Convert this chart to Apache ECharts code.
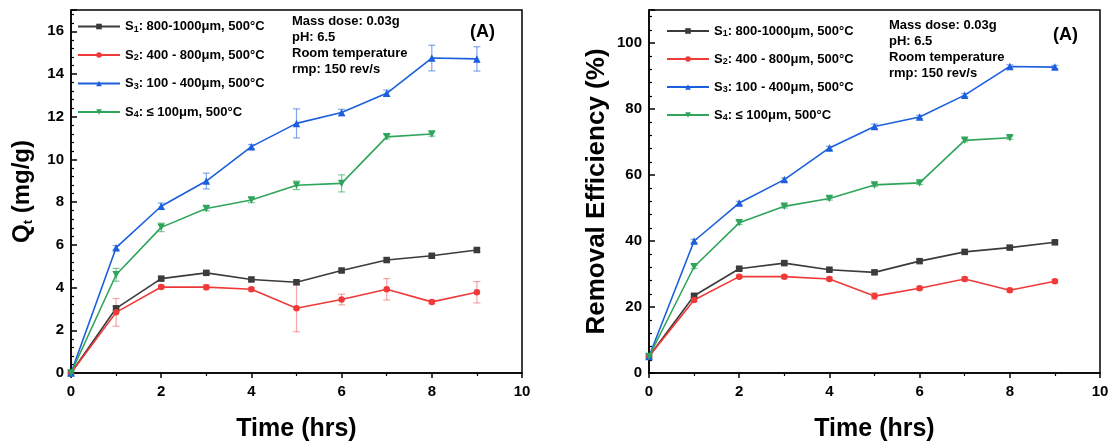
<!DOCTYPE html>
<html><head><meta charset="utf-8">
<script src="https://cdn.jsdelivr.net/npm/echarts@6/dist/echarts.min.js"></script>
<style>html,body{margin:0;padding:0;background:#fff}#c{width:1109px;height:442px}</style>
</head><body><div id="c"></div>
<script>
// ---- data ----
const time = [0, 1, 2, 3, 4, 5, 6, 7, 8, 9];
const seriesNames = ['S1: 800-1000μm, 500°C', 'S2: 400 - 800μm, 500°C', 'S3: 100 - 400μm, 500°C', 'S4: ≤ 100μm, 500°C'];

// Qt (mg/g)
const qtS1 = [0, 3.03, 4.42, 4.69, 4.38, 4.25, 4.80, 5.29, 5.49, 5.76];
const qtS2 = [0, 2.84, 4.03, 4.02, 3.92, 3.03, 3.44, 3.92, 3.33, 3.78];
const qtS3 = [0, 5.87, 7.81, 8.99, 10.60, 11.69, 12.20, 13.10, 14.75, 14.71];
const qtS4 = [0, 4.60, 6.82, 7.70, 8.10, 8.79, 8.88, 11.06, 11.19];
const qtErrS1 = [0, 0.08, 0.08, 0.08, 0.08, 0.08, 0.08, 0.08, 0.08, 0.08];
const qtErrS2 = [0, 0.65, 0.08, 0.12, 0.08, 1.10, 0.25, 0.50, 0.08, 0.50];
const qtErrS3 = [0, 0.10, 0.15, 0.37, 0.10, 0.68, 0.15, 0.15, 0.60, 0.57];
const qtErrS4 = [0, 0.30, 0.20, 0.10, 0.12, 0.20, 0.40, 0.10, 0.10];

// Removal efficiency (%)
const reS1 = [5, 23.4, 31.6, 33.3, 31.3, 30.5, 33.9, 36.7, 38.0, 39.6];
const reS2 = [5, 22.1, 29.2, 29.2, 28.5, 23.3, 25.7, 28.5, 25.1, 27.8];
const reS3 = [5, 40.0, 51.5, 58.6, 68.2, 74.7, 77.6, 84.2, 92.9, 92.7];
const reS4 = [5, 32.2, 45.5, 50.5, 52.9, 57.0, 57.6, 70.5, 71.3];
const reErrS1 = [0, 0.5, 0.5, 0.5, 0.5, 0.5, 0.5, 0.5, 0.5, 0.5];
const reErrS2 = [0, 0.5, 0.5, 0.5, 0.5, 1.0, 0.5, 0.6, 0.5, 0.5];
const reErrS3 = [0, 0.5, 0.5, 0.5, 0.5, 0.7, 0.5, 0.5, 0.5, 0.5];
const reErrS4 = [0, 0.5, 0.5, 0.5, 0.5, 0.5, 0.5, 0.5, 0.5];

// ---- styling ----
const colors = ['#3b3b3b', '#f03a3a', '#1b5fdc', '#2ea55a'];
const errColors = ['rgba(59,59,59,0.55)', 'rgba(240,58,58,0.45)', 'rgba(27,95,220,0.55)', 'rgba(46,165,90,0.6)'];
const symbols = ['rect', 'circle', 'triangle', 'path://M0,0L10,0L5,9Z'];
const symSizes = [6.5, 6.5, 7.5, 7.5];
const FONT = 'Arial, "Liberation Sans", sans-serif';

const panels = [
  { vals: [qtS1, qtS2, qtS3, qtS4], errs: [qtErrS1, qtErrS2, qtErrS3, qtErrS4] },
  { vals: [reS1, reS2, reS3, reS4], errs: [reErrS1, reErrS2, reErrS3, reErrS4] }
];

function errRender(color) {
  return function (params, api) {
    const x = api.value(0), y = api.value(1), e = api.value(2);
    if (!e) return null;
    const t = api.coord([x, y + e]), b = api.coord([x, y - e]);
    const w = 3.5;
    const st = { stroke: color, lineWidth: 1.2 };
    return { type: 'group', children: [
      { type: 'line', shape: { x1: t[0], y1: t[1], x2: b[0], y2: b[1] }, style: st },
      { type: 'line', shape: { x1: t[0] - w, y1: t[1], x2: t[0] + w, y2: t[1] }, style: st },
      { type: 'line', shape: { x1: b[0] - w, y1: b[1], x2: b[0] + w, y2: b[1] }, style: st }
    ]};
  };
}

const series = [];
panels.forEach((p, pi) => {
  p.vals.forEach((vals, i) => {
    series.push({
      type: 'custom', xAxisIndex: pi, yAxisIndex: pi, z: 2, silent: true,
      renderItem: errRender(errColors[i]),
      data: vals.map((v, k) => [time[k], v, p.errs[i][k]])
    });
  });
  p.vals.forEach((vals, i) => {
    series.push({
      type: 'line', name: seriesNames[i], xAxisIndex: pi, yAxisIndex: pi, z: 3,
      data: vals.map((v, k) => [time[k], v]),
      symbol: symbols[i], symbolSize: symSizes[i], showAllSymbol: true,
      lineStyle: { color: colors[i], width: 1.6 },
      itemStyle: { color: colors[i] },
      animation: false
    });
  });
});

const legendRich = {
  n: { fontFamily: FONT, fontWeight: 'bold', fontSize: 13, color: '#000' },
  s: { fontFamily: FONT, fontWeight: 'bold', fontSize: 9, color: '#000', verticalAlign: 'bottom', padding: [6, 0, 0, 0] }
};
function legendFmt(name) {
  return '{n|S}{s|' + name[1] + '}{n|' + name.slice(2) + '}';
}
function mkLegend(left, top, gap) {
  return {
    orient: 'vertical', left: left, top: top, itemGap: gap, itemWidth: 42, itemHeight: 7,
    data: seriesNames, formatter: legendFmt, selectedMode: false,
    textStyle: { rich: legendRich, fontFamily: FONT, fontWeight: 'bold', fontSize: 13 }
  };
}

function xAx(gi) {
  return {
    type: 'value', gridIndex: gi, min: 0, max: 10, interval: 2,
    name: 'Time (hrs)', nameLocation: 'middle', nameGap: 44,
    nameTextStyle: { fontFamily: FONT, fontWeight: 'bold', fontSize: 25, color: '#000' },
    axisLine: { show: true, onZero: false, lineStyle: { color: '#000', width: 1.5 } },
    axisTick: { show: true, inside: false, length: 5, lineStyle: { color: '#000', width: 1.5 } },
    minorTick: { show: true, splitNumber: 2, length: 3, lineStyle: { color: '#000', width: 1.2 } },
    splitLine: { show: false }, minorSplitLine: { show: false },
    axisLabel: { fontFamily: FONT, fontWeight: 'bold', fontSize: 15, color: '#000', margin: 11 }
  };
}
function yAx(gi, max, interval, nameText, nameRich, gap, nameSize) {
  return {
    type: 'value', gridIndex: gi, min: 0, max: max, interval: interval,
    name: nameText, nameLocation: 'middle', nameGap: gap,
    nameTextStyle: { fontFamily: FONT, fontWeight: 'bold', fontSize: nameSize, color: '#000', rich: nameRich },
    axisLine: { show: true, onZero: false, lineStyle: { color: '#000', width: 1.5 } },
    axisTick: { show: true, inside: true, length: 6, lineStyle: { color: '#000', width: 1.5 } },
    minorTick: { show: true, splitNumber: 5, length: 3, lineStyle: { color: '#000', width: 1.2 } },
    splitLine: { show: false }, minorSplitLine: { show: false },
    axisLabel: { fontFamily: FONT, fontWeight: 'bold', fontSize: 15, color: '#000', margin: 7, showMaxLabel: false }
  };
}

const noteText = 'Mass dose: 0.03g\npH: 6.5\nRoom temperature\nrmp: 150 rev/s';
const gridBase = { top: 10, bottom: 69, show: true, borderColor: '#000', borderWidth: 1.5, backgroundColor: 'transparent', containLabel: false, outerBoundsMode: 'none' };
const option = {
  backgroundColor: '#fff',
  animation: false,
  grid: [
    Object.assign({ left: 71, right: 587 }, gridBase),
    Object.assign({ left: 649, right: 9 }, gridBase)
  ],
  xAxis: [xAx(0), xAx(1)],
  yAxis: [
    yAx(0, 17, 2, 'Q{sub|t} (mg/g)', {
      sub: { fontFamily: FONT, fontWeight: 'bold', fontSize: 13, color: '#000', verticalAlign: 'bottom', padding: [12, 0, 0, 0] }
    }, 36, 24),
    yAx(1, 110, 20, 'Removal Efficiency (%)', {}, 39, 26)
  ],
  legend: [mkLegend(72, 15, 14.5), mkLegend(661, 19.5, 14)],
  graphic: [
    { type: 'text', left: 292, top: 13, style: { text: noteText, font: 'bold 13px ' + FONT, lineHeight: 16, fill: '#000' } },
    { type: 'text', left: 889, top: 17, style: { text: noteText, font: 'bold 13px ' + FONT, lineHeight: 16, fill: '#000' } },
    { type: 'text', left: 470, top: 23, style: { text: '(A)', font: 'bold 18px ' + FONT, fill: '#000' } },
    { type: 'text', left: 1053, top: 26, style: { text: '(A)', font: 'bold 18px ' + FONT, fill: '#000' } }
  ],
  series: series
};

const chart = echarts.init(document.getElementById('c'), null, { renderer: 'canvas' });
chart.setOption(option);
</script>
</body></html>
